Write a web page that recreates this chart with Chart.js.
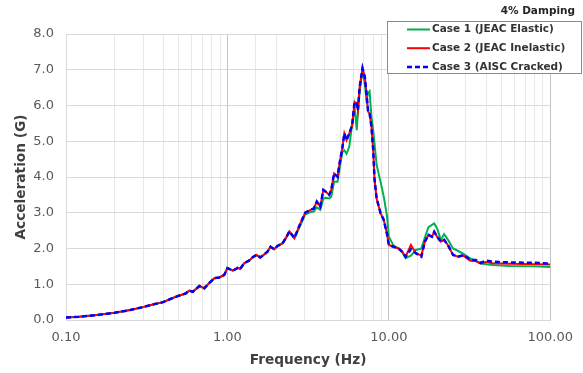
<!DOCTYPE html>
<html>
<head>
<meta charset="utf-8">
<script src="https://cdn.jsdelivr.net/npm/chart.js@4"></script>
<style>
  html, body { margin: 0; padding: 0; background: #fff; }
  #wrap { width: 583px; height: 373px; }
</style>
</head>
<body>
<div id="wrap"><canvas id="myChart" width="583" height="373"></canvas></div>
<script>
// frequency points (Hz), shared by all three cases
const freq = [
  0.10, 0.12, 0.15, 0.20, 0.25, 0.30, 0.35, 0.40, 0.45, 0.50,
  0.55, 0.58, 0.61, 0.67, 0.72, 0.77, 0.83, 0.89, 0.955, 1.00,
  1.08, 1.16, 1.20, 1.27, 1.36, 1.43, 1.51, 1.60, 1.77, 1.85,
  1.95, 2.04, 2.20, 2.30, 2.42, 2.60, 2.80, 3.03, 3.27, 3.43,
  3.58, 3.76, 3.93, 4.07, 4.27, 4.40, 4.58, 4.81, 4.98, 5.15,
  5.30, 5.47, 5.69, 5.93, 6.13, 6.33, 6.43, 6.60, 6.87, 7.10,
  7.27, 7.44, 7.60, 7.80, 8.00, 8.15, 8.40, 8.90, 9.30, 9.75,
  10.0, 10.7, 11.5, 12.1, 12.7, 13.7, 14.7, 15.9, 16.7, 17.6,
  18.5, 19.1, 19.9, 21.0, 22.0, 23.2, 25.0, 26.9, 29.0, 32.0,
  34.5, 37.0, 40.0, 44.0, 56.5, 80.0, 100.0
];

// Case 1 (JEAC Elastic) - green
const case1 = [
  0.07, 0.09, 0.13, 0.20, 0.28, 0.36, 0.44, 0.50, 0.60, 0.68,
  0.74, 0.82, 0.79, 0.95, 0.89, 1.03, 1.17, 1.19, 1.26, 1.45,
  1.38, 1.46, 1.43, 1.59, 1.66, 1.75, 1.82, 1.75, 1.91, 2.05,
  1.98, 2.07, 2.15, 2.29, 2.46, 2.28, 2.60, 2.95, 3.02, 3.03,
  3.15, 3.08, 3.40, 3.42, 3.40, 3.45, 3.87, 3.87, 4.29, 4.70,
  4.75, 4.65, 4.85, 5.50, 5.97, 5.31, 5.80, 6.40, 7.00, 6.60,
  6.15, 6.35, 6.40, 5.69, 5.31, 4.94, 4.34, 3.85, 3.45, 2.89,
  2.33, 2.08, 2.00, 1.90, 1.73, 1.80, 1.96, 2.00, 2.30, 2.60,
  2.66, 2.70, 2.56, 2.24, 2.40, 2.25, 2.00, 1.93, 1.85, 1.72,
  1.65, 1.58, 1.56, 1.54, 1.51, 1.50, 1.48
];

// Case 2 (JEAC Inelastic) - red
const case2 = [
  0.07, 0.09, 0.13, 0.20, 0.28, 0.36, 0.44, 0.50, 0.60, 0.68,
  0.74, 0.82, 0.79, 0.95, 0.89, 1.03, 1.17, 1.19, 1.26, 1.45,
  1.38, 1.46, 1.43, 1.59, 1.66, 1.75, 1.82, 1.75, 1.91, 2.05,
  1.98, 2.07, 2.15, 2.29, 2.48, 2.30, 2.65, 3.00, 3.08, 3.12,
  3.31, 3.17, 3.64, 3.59, 3.50, 3.64, 4.10, 4.01, 4.45, 4.80,
  5.22, 5.03, 5.22, 5.45, 6.10, 6.06, 5.87, 6.53, 7.04, 6.80,
  6.34, 5.83, 5.78, 5.41, 4.76, 3.95, 3.40, 2.98, 2.80, 2.40,
  2.10, 2.05, 2.00, 1.91, 1.77, 2.10, 1.87, 1.80, 2.19, 2.38,
  2.33, 2.47, 2.33, 2.19, 2.24, 2.10, 1.82, 1.77, 1.80, 1.66,
  1.65, 1.58, 1.62, 1.59, 1.57, 1.56, 1.55
];

// Case 3 (AISC Cracked) - blue dashed
const case3 = [
  0.07, 0.09, 0.13, 0.20, 0.28, 0.36, 0.44, 0.50, 0.60, 0.68,
  0.74, 0.82, 0.79, 0.95, 0.89, 1.03, 1.17, 1.19, 1.26, 1.45,
  1.38, 1.46, 1.43, 1.59, 1.66, 1.75, 1.82, 1.75, 1.91, 2.05,
  1.98, 2.07, 2.15, 2.29, 2.48, 2.30, 2.65, 3.00, 3.08, 3.12,
  3.31, 3.17, 3.64, 3.59, 3.50, 3.64, 4.10, 4.01, 4.45, 4.80,
  5.22, 5.03, 5.22, 5.45, 6.10, 6.06, 5.87, 6.53, 7.04, 6.80,
  6.34, 5.83, 5.78, 5.41, 4.76, 3.95, 3.40, 2.98, 2.80, 2.40,
  2.10, 2.05, 2.00, 1.91, 1.77, 1.98, 1.87, 1.77, 2.19, 2.38,
  2.33, 2.47, 2.33, 2.19, 2.24, 2.10, 1.82, 1.77, 1.82, 1.68,
  1.68, 1.60, 1.66, 1.63, 1.61, 1.60, 1.58
];

const seriesNames = ['Case 1 (JEAC Elastic)', 'Case 2 (JEAC Inelastic)', 'Case 3 (AISC Cracked)'];
const dampingLabel = '4% Damping';
const xTitle = 'Frequency (Hz)';
const yTitle = 'Acceleration (G)';

function toPoints(ys) {
    return freq.map((f, i) => ({ x: f, y: ys[i] }));
}

function isDecade(v) {
    const l = Math.log10(v);
    return Math.abs(l - Math.round(l)) < 1e-6;
}

Chart.defaults.font.family = '"DejaVu Sans", Verdana, sans-serif';

// draws the "4% Damping" note and the boxed legend over the plot
const overlay = {
    id: 'overlay',
    afterDraw(chart) {
        const ctx = chart.ctx;
        ctx.save();
        ctx.font = 'bold 10.5px "DejaVu Sans"';
        ctx.fillStyle = '#262626';
        ctx.textAlign = 'right';
        ctx.textBaseline = 'middle';
        ctx.fillText(dampingLabel, 575, 11);

        ctx.fillStyle = '#ffffff';
        ctx.fillRect(387, 21, 195, 53);
        ctx.strokeStyle = '#8c8c8c';
        ctx.lineWidth = 1;
        ctx.strokeRect(387.5, 21.5, 194, 52);

        ctx.textAlign = 'left';
        chart.data.datasets.forEach((ds, i) => {
            const y = 29.5 + i * 18.7;
            ctx.beginPath();
            ctx.strokeStyle = ds.borderColor;
            ctx.lineWidth = ds.borderWidth;
            ctx.setLineDash(ds.borderDash || []);
            ctx.moveTo(407, y);
            ctx.lineTo(430, y);
            ctx.stroke();
            ctx.setLineDash([]);
            ctx.fillStyle = '#333333';
            ctx.fillText(ds.label, 432, y);
        });
        ctx.restore();
    }
};

new Chart(document.getElementById('myChart'), {
    type: 'line',
    data: {
        datasets: [
            {
                label: seriesNames[0],
                data: toPoints(case1),
                borderColor: '#00b050',
                borderWidth: 2,
                pointRadius: 0,
                order: 3
            },
            {
                label: seriesNames[1],
                data: toPoints(case2),
                borderColor: '#ff0000',
                borderWidth: 2,
                pointRadius: 0,
                order: 2
            },
            {
                label: seriesNames[2],
                data: toPoints(case3),
                borderColor: '#0000ff',
                borderWidth: 2.5,
                borderDash: [5, 3],
                pointRadius: 0,
                order: 1
            }
        ]
    },
    options: {
        responsive: false,
        animation: false,
        layout: { padding: { top: 34, right: 31, left: 0, bottom: 0 } },
        scales: {
            x: {
                type: 'logarithmic',
                min: 0.1,
                max: 100,
                border: { color: '#d9d9d9' },
                grid: {
                    drawTicks: false,
                    color: c => (c.tick && isDecade(c.tick.value)) ? '#c4c4c4' : '#e8e8e8'
                },
                ticks: {
                    autoSkip: false,
                    maxRotation: 0,
                    padding: 10,
                    color: '#595959',
                    font: { size: 13 },
                    callback: v => isDecade(v) ? Number(v).toFixed(2) : ''
                },
                title: {
                    display: true,
                    text: xTitle,
                    color: '#404040',
                    font: { size: 13.7, weight: 'bold' },
                    padding: { top: 0, bottom: 4 }
                },
                afterFit: s => { s.height = 53; }
            },
            y: {
                min: 0,
                max: 8,
                border: { color: '#d9d9d9' },
                grid: { drawTicks: false, color: '#d9d9d9' },
                ticks: {
                    stepSize: 1,
                    padding: 12,
                    color: '#595959',
                    font: { size: 13 },
                    callback: v => Number(v).toFixed(1)
                },
                title: {
                    display: true,
                    text: yTitle,
                    color: '#404040',
                    font: { size: 13.7, weight: 'bold' },
                    padding: { top: 13, bottom: 0 }
                },
                afterFit: s => { s.width = 66; }
            }
        },
        plugins: {
            legend: { display: false },
            tooltip: { enabled: false }
        }
    },
    plugins: [overlay]
});
</script>
</body>
</html>
